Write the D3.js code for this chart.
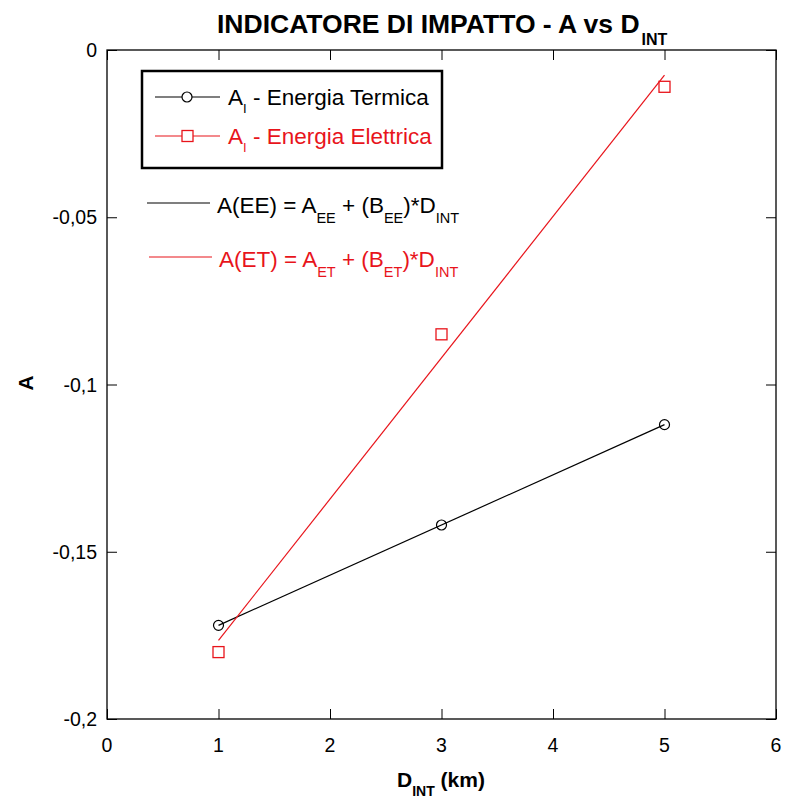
<!DOCTYPE html>
<html><head><meta charset="utf-8">
<script src="https://cdn.jsdelivr.net/npm/d3@7"></script>
<style>body{margin:0;background:#fff}svg{font-family:"Liberation Sans",Arial,sans-serif}</style>
</head><body>
<svg id="c" width="785" height="805"></svg>
<script>
const dint = [1, 3, 5];
const termica = [-0.172, -0.142, -0.112];
const elettrica = [-0.180, -0.085, -0.011];
const xTicks = [0, 1, 2, 3, 4, 5, 6];
const yTicks = [0, -0.05, -0.1, -0.15, -0.2];
const RED = "#e8141b";

const svg = d3.select("#c");
const L = 107, R = 776, T = 50, B = 719;
const x = d3.scaleLinear().domain([0, 6]).range([L, R]);
const y = d3.scaleLinear().domain([-0.2, 0]).range([B, T]);
const fmt = d => d === 0 ? "0" : String(d).replace(".", ",");

// frame
svg.append("rect").attr("x", L).attr("y", T).attr("width", R - L).attr("height", B - T)
  .attr("fill", "none").attr("stroke", "#000").attr("stroke-width", 1.3);

// axes
const ax = (g, axis) => { g.call(axis); g.select(".domain").remove(); g.selectAll("line").attr("stroke", "#000").attr("stroke-width", 1); };
svg.append("g").attr("transform", `translate(0,${B})`).call(g => ax(g, d3.axisTop(x).tickValues(xTicks).tickSize(10).tickFormat("")));
svg.append("g").attr("transform", `translate(0,${T})`).call(g => ax(g, d3.axisBottom(x).tickValues(xTicks).tickSize(10).tickFormat("")));
svg.append("g").attr("transform", `translate(${L},0)`).call(g => ax(g, d3.axisRight(y).tickValues(yTicks).tickSize(10).tickFormat("")));
svg.append("g").attr("transform", `translate(${R},0)`).call(g => ax(g, d3.axisLeft(y).tickValues(yTicks).tickSize(10).tickFormat("")));

// tick labels
svg.append("g").selectAll("text").data(xTicks).join("text")
  .attr("x", d => x(d)).attr("y", 752).attr("text-anchor", "middle")
  .attr("font-size", 19.5).text(d => d);
svg.append("g").selectAll("text").data(yTicks).join("text")
  .attr("x", 97).attr("y", d => y(d) + 7).attr("text-anchor", "end")
  .attr("font-size", 19.5).text(fmt);

// title
const title = svg.append("text").attr("x", 217).attr("y", 33)
  .attr("font-size", 26.5).attr("font-weight", "bold");
title.append("tspan").text("INDICATORE DI IMPATTO - A vs D");
title.append("tspan").attr("font-size", 16).attr("dy", 12).attr("dx", 2).text("INT");

// axis titles
const xt = svg.append("text").attr("x", 397).attr("y", 787)
  .attr("font-size", 21).attr("font-weight", "bold");
xt.append("tspan").text("D");
xt.append("tspan").attr("font-size", 14).attr("dy", 9).text("INT");
xt.append("tspan").attr("dy", -9).text(" (km)");
svg.append("text").attr("transform", "translate(33,383) rotate(-90)").attr("text-anchor", "middle")
  .attr("font-size", 21).attr("font-weight", "bold").text("A");

// regression fits
function fit(xs, ys) {
  const mx = d3.mean(xs), my = d3.mean(ys);
  const b = d3.sum(xs, (v, i) => (v - mx) * (ys[i] - my)) / d3.sum(xs, v => (v - mx) ** 2);
  return [my - b * mx, b];
}
const line = d3.line().x(d => x(d[0])).y(d => y(d[1]));
const xr = d3.extent(dint);
[[termica, "#000"], [elettrica, RED]].forEach(([ys, c]) => {
  const [a, b] = fit(dint, ys);
  svg.append("path").attr("d", line(xr.map(v => [v, a + b * v])))
    .attr("fill", "none").attr("stroke", c).attr("stroke-width", 1.2);
});

// markers
svg.append("g").selectAll("circle").data(dint).join("circle")
  .attr("cx", d => x(d)).attr("cy", (d, i) => y(termica[i])).attr("r", 5)
  .attr("fill", "none").attr("stroke", "#000").attr("stroke-width", 1.2);
svg.append("g").selectAll("rect").data(dint).join("rect")
  .attr("x", d => x(d) - 5.5).attr("y", (d, i) => y(elettrica[i]) - 5.5)
  .attr("width", 11).attr("height", 11)
  .attr("fill", "none").attr("stroke", RED).attr("stroke-width", 1.3);

// legend box
svg.append("rect").attr("x", 142).attr("y", 71).attr("width", 300).attr("height", 97)
  .attr("fill", "#fff").attr("stroke", "#000").attr("stroke-width", 2.5);
function legItem(yy, c, marker, label) {
  svg.append("line").attr("x1", 155).attr("x2", 220).attr("y1", yy).attr("y2", yy).attr("stroke", c).attr("stroke-width", 1.2);
  if (marker === "c") svg.append("circle").attr("cx", 187).attr("cy", yy).attr("r", 5).attr("fill", "#fff").attr("stroke", c).attr("stroke-width", 1.2);
  else svg.append("rect").attr("x", 182).attr("y", yy - 5.5).attr("width", 11).attr("height", 11).attr("fill", "#fff").attr("stroke", c).attr("stroke-width", 1.3);
  const t = svg.append("text").attr("x", 228).attr("y", yy + 8).attr("font-size", 22.5).attr("fill", c);
  t.append("tspan").text("A");
  t.append("tspan").attr("font-size", 13).attr("dy", 8).text("I");
  t.append("tspan").attr("dy", -8).text(" - " + label);
}
legItem(97, "#000", "c", "Energia Termica");
legItem(136, RED, "s", "Energia Elettrica");

// equations
function eq(yy, x1, c, name, sub) {
  svg.append("line").attr("x1", x1).attr("x2", x1 + 63).attr("y1", yy).attr("y2", yy).attr("stroke", c).attr("stroke-width", 1.2);
  const t = svg.append("text").attr("x", x1 + 70).attr("y", yy + 10).attr("font-size", 22.5).attr("fill", c);
  t.append("tspan").text(`A(${name}) = A`);
  t.append("tspan").attr("font-size", 14.5).attr("dy", 10).text(sub);
  t.append("tspan").attr("dy", -10).text(" + (B");
  t.append("tspan").attr("font-size", 14.5).attr("dy", 10).text(sub);
  t.append("tspan").attr("dy", -10).text(")*D");
  t.append("tspan").attr("font-size", 14.5).attr("dy", 10).text("INT");
}
eq(203, 147, "#000", "EE", "EE");
eq(257, 149, RED, "ET", "ET");
</script>
</body></html>
